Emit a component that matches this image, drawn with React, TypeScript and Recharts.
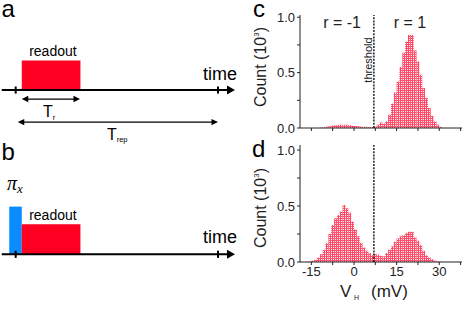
import React from 'react';
import { ComposedChart, Bar, XAxis, YAxis, ReferenceLine, ReferenceArea, ReferenceDot } from 'recharts';

const FONT = '"Liberation Sans", Arial, Helvetica, sans-serif';
const INK = '#222';
const AXIS = '#222';
const FRAME = '#555';
const PULSE_RED = '#ff0022';
const PULSE_BLUE = '#0a8cff';

// ---------- histogram data (bin centres in mV, counts in 10^3) ----------
const binCenters = [
  -18.5, -17.5, -16.5, -15.5, -14.5, -13.5, -12.5, -11.5, -10.5, -9.5,
  -8.5, -7.5, -6.5, -5.5, -4.5, -3.5, -2.5, -1.5, -0.5, 0.5,
  1.5, 2.5, 3.5, 4.5, 5.5, 6.5, 7.5, 8.5, 9.5, 10.5,
  11.5, 12.5, 13.5, 14.5, 15.5, 16.5, 17.5, 18.5, 19.5, 20.5,
  21.5, 22.5, 23.5, 24.5, 25.5, 26.5, 27.5, 28.5, 29.5, 30.5,
  31.5, 32.5, 33.5, 34.5, 35.5, 36.5, 37.5,
];
const countsC = [
  0, 0, 0, 0, 0, 0, 0, 0.003, 0.006, 0.012,
  0.016, 0.022, 0.026, 0.028, 0.03, 0.028, 0.03, 0.026, 0.02, 0.018,
  0.015, 0.012, 0.01, 0.01, 0.008, 0.008, 0.012, 0.03, 0.05, 0.04,
  0.06, 0.12, 0.22, 0.32, 0.42, 0.55, 0.68, 0.78, 0.84, 0.84,
  0.7, 0.6, 0.48, 0.36, 0.27, 0.18, 0.11, 0.06, 0.03, 0.01,
  0, 0, 0, 0, 0, 0, 0,
];
const countsD = [
  0, 0, 0.003, 0.008, 0.012, 0.02, 0.04, 0.07, 0.11, 0.17,
  0.25, 0.33, 0.39, 0.42, 0.45, 0.51, 0.48, 0.44, 0.36, 0.29,
  0.23, 0.17, 0.13, 0.1, 0.08, 0.06, 0.07, 0.065, 0.055, 0.05,
  0.08, 0.11, 0.14, 0.18, 0.21, 0.23, 0.24, 0.26, 0.27, 0.27,
  0.22, 0.19, 0.15, 0.1, 0.06, 0.04, 0.025, 0.012, 0.006, 0.003,
  0, 0, 0, 0, 0, 0, 0,
];
const vDomain = [-19, 38];
const thresholdMV = 7;
const vTicks = [-15, -7.5, 0, 7.5, 15, 22.5, 30, 37.5];
const vTickLabels = [-15, 0, 15, 30];
const countTicks = [0, 0.25, 0.5, 0.75, 1];
const countTickLabels = [0, 0.5, 1];

const histData = binCenters.map((v, i) => ({ v, c: countsC[i], d: countsD[i] }));

// ---------- timing diagram data (time in arbitrary units, amplitude in readout units) ----------
const tDomain = [-0.776, 11.088];
const repPeriod = 10;
const tickTimes = [0, repPeriod];
const timeAxisRange = [-0.69, 10.84];
const readoutWindow = [0.3, 3.2];
const piPulseWindow = [-0.32, 0.3];
const readoutLevel = 1;
const piLevel = 1.59;
const trSpan = [0.3, 3.18];
const trepSpan = [0.1, 10];
const timingEdges = [piPulseWindow[0], 0, readoutWindow[0], readoutWindow[1], repPeriod];
const timingData = timingEdges.map((t) => ({ t }));

// ---------- helpers ----------
const at = (render: (x: number, y: number) => React.ReactNode) => (p: any) => {
  const vb = p.viewBox || {};
  return render((vb.x ?? 0) + (vb.width ?? 0) / 2, (vb.y ?? 0) + (vb.height ?? 0) / 2);
};

const arrowShape = (start: boolean, end: boolean, len: number, half: number, width: number) => (p: any) => {
  const { x1, y1, x2, y2 } = p;
  const dx = x2 - x1;
  const dy = y2 - y1;
  const L = Math.hypot(dx, dy) || 1;
  const ux = dx / L;
  const uy = dy / L;
  const px = -uy;
  const py = ux;
  const head = (tx: number, ty: number, dir: number) => {
    const bx = tx - dir * ux * len;
    const by = ty - dir * uy * len;
    return `${tx},${ty} ${bx + px * half},${by + py * half} ${bx - px * half},${by - py * half}`;
  };
  const sx = start ? x1 + ux * len * 0.7 : x1;
  const sy = start ? y1 + uy * len * 0.7 : y1;
  const ex = end ? x2 - ux * len * 0.7 : x2;
  const ey = end ? y2 - uy * len * 0.7 : y2;
  return (
    <g>
      <line x1={sx} y1={sy} x2={ex} y2={ey} stroke="#000" strokeWidth={width} />
      {start && <polygon points={head(x1, y1, -1)} fill="#000" />}
      {end && <polygon points={head(x2, y2, 1)} fill="#000" />}
    </g>
  );
};

function Timing({ yDomain, withPi }: { yDomain: number[]; withPi: boolean }) {
  return (
    <ComposedChart width={240} height={155} data={timingData} margin={{ top: 0, right: 0, bottom: 0, left: 0 }}>
      <XAxis xAxisId="t" dataKey="t" type="number" domain={tDomain} allowDataOverflow hide height={0} />
      <YAxis yAxisId="a" type="number" domain={yDomain} allowDataOverflow hide width={0} />
      {withPi && (
        <ReferenceArea xAxisId="t" yAxisId="a" x1={piPulseWindow[0]} x2={piPulseWindow[1]} y1={0} y2={piLevel}
          fill={PULSE_BLUE} fillOpacity={1} stroke="none" ifOverflow="visible" />
      )}
      <ReferenceArea xAxisId="t" yAxisId="a" x1={readoutWindow[0]} x2={readoutWindow[1]} y1={0} y2={readoutLevel}
        fill={PULSE_RED} fillOpacity={1} stroke="none" ifOverflow="visible" />
      <ReferenceLine xAxisId="t" yAxisId="a" segment={[{ x: timeAxisRange[0], y: 0 }, { x: timeAxisRange[1], y: 0 }]}
        ifOverflow="visible" shape={arrowShape(false, true, 8, 4.5, 2)} />
      {tickTimes.map((t) => (
        <ReferenceLine key={t} xAxisId="t" yAxisId="a" segment={[{ x: t, y: -0.12 }, { x: t, y: 0.12 }]}
          stroke="#000" strokeWidth={2} ifOverflow="visible" />
      ))}
      {!withPi && (
        <ReferenceLine xAxisId="t" yAxisId="a" segment={[{ x: trSpan[0], y: -0.305 }, { x: trSpan[1], y: -0.305 }]}
          ifOverflow="visible" shape={arrowShape(true, true, 6.5, 3.2, 1.3)} />
      )}
      {!withPi && (
        <ReferenceLine xAxisId="t" yAxisId="a" segment={[{ x: trepSpan[0], y: -1.085 }, { x: trepSpan[1], y: -1.085 }]}
          ifOverflow="visible" shape={arrowShape(true, true, 6.5, 3.2, 1.3)} />
      )}
      <ReferenceDot xAxisId="t" yAxisId="a" x={1.84} y={withPi ? 1.14 : 1.15} r={0} fill="none" stroke="none" ifOverflow="visible"
        label={at((x, y) => (
          <text x={x} y={y} textAnchor="middle" fontSize={14} fontFamily={FONT} fill="#000">readout</text>
        ))} />
      <ReferenceDot xAxisId="t" yAxisId="a" x={10.1} y={withPi ? 0.377 : 0.34} r={0} fill="none" stroke="none" ifOverflow="visible"
        label={at((x, y) => (
          <text x={x} y={y} textAnchor="middle" fontSize={18} fontFamily={FONT} fill="#000">time</text>
        ))} />
      {!withPi && (
        <ReferenceDot xAxisId="t" yAxisId="a" x={1.35} y={-0.915} r={0} fill="none" stroke="none" ifOverflow="visible"
          label={at((x, y) => (
            <text x={x} y={y} fontSize={16} fontFamily={FONT} fill="#000">T<tspan fontSize={7.5} dy={3} fill="#000">r</tspan></text>
          ))} />
      )}
      {!withPi && (
        <ReferenceDot xAxisId="t" yAxisId="a" x={4.51} y={-1.695} r={0} fill="none" stroke="none" ifOverflow="visible"
          label={at((x, y) => (
            <text x={x} y={y} fontSize={16} fontFamily={FONT} fill="#000">T<tspan fontSize={7.5} dy={2} fill="#000">rep</tspan></text>
          ))} />
      )}
      {withPi && (
        <ReferenceDot xAxisId="t" yAxisId="a" x={-0.43} y={2.14} r={0} fill="none" stroke="none" ifOverflow="visible"
          label={at((x, y) => (
            <text x={x} y={y} fontSize={20} fontFamily='"Liberation Serif", "DejaVu Serif", serif' fontStyle="italic" fill="#000">
              π<tspan fontSize={13} dy={3}>x</tspan>
            </text>
          ))} />
      )}
    </ComposedChart>
  );
}

const countLabel = (centerY: number) => (p: any) => {
  const vb = p.viewBox || {};
  const x = (vb.x ?? 0) + 26;
  const y = centerY;
  return (
    <text x={x} y={y} transform={`rotate(-90 ${x} ${y})`} textAnchor="middle" fontSize={16} fontFamily={FONT} fill={INK}>
      Count (10<tspan dy={-7} fontSize={8}>3</tspan><tspan dy={7}>)</tspan>
    </text>
  );
};

const vLabel = (p: any) => {
  const vb = p.viewBox || {};
  const x0 = (vb.x ?? 0) + 40;
  const y = (vb.y ?? 0) + 35;
  return (
    <text y={y} fontSize={17} fontFamily={FONT} fill={INK}>
      <tspan x={x0}>V</tspan>
      <tspan x={x0 + 14} dy={3} fontSize={7}>H</tspan>
      <tspan x={x0 + 31} dy={-3}>(mV)</tspan>
    </text>
  );
};

type HistProps = {
  dataKey: string;
  height: number;
  axisHeight: number;
  yMax: number;
  showTickLabels: boolean;
  labelCenter: number;
  annotate: boolean;
};

function Histogram({ dataKey, height, axisHeight, yMax, showTickLabels, labelCenter, annotate }: HistProps) {
  const tickStyle = { fill: INK, fontSize: 13, fontFamily: FONT };
  return (
    <ComposedChart width={231} height={height} data={histData} margin={{ top: 15, right: 9, bottom: 0, left: 0 }}
      barCategoryGap={0} barGap={0}>
      <XAxis xAxisId="num" dataKey="v" type="number" domain={vDomain} allowDataOverflow ticks={vTicks} interval={0}
        tickSize={3} height={axisHeight} stroke={AXIS} tick={tickStyle}
        tickFormatter={(t: number) => (showTickLabels && vTickLabels.includes(t) ? String(t) : '')}
        label={showTickLabels ? vLabel : undefined} />
      <XAxis xAxisId="cat" dataKey="v" type="category" hide height={0} />
      <XAxis xAxisId="top" dataKey="v" orientation="top" type="number" domain={vDomain} allowDataOverflow tick={false}
        tickLine={false} height={0} stroke={FRAME} />
      <YAxis yAxisId="l" type="number" domain={[0, yMax]} allowDataOverflow ticks={countTicks} interval={0}
        tickSize={3} width={60} stroke={AXIS} tick={tickStyle}
        tickFormatter={(t: number) => (countTickLabels.includes(t) ? t.toFixed(1) : '')}
        label={countLabel(labelCenter)} />
      <YAxis yAxisId="r" orientation="right" type="number" domain={[0, yMax]} allowDataOverflow tick={false}
        tickLine={false} width={0} stroke={FRAME} />
      <Bar xAxisId="cat" yAxisId="l" dataKey={dataKey} fill="url(#histFill)" barSize={2.84} isAnimationActive={false} />
      <ReferenceLine xAxisId="num" yAxisId="l" x={thresholdMV} stroke="#000" strokeWidth={1.3} strokeDasharray="2 1.2"
        label={annotate ? (p: any) => {
          const vb = p.viewBox || {};
          const x = (vb.x ?? 0) - 2;
          const y = (vb.y ?? 0) + 45;
          return (
            <text x={x} y={y} transform={`rotate(-90 ${x} ${y})`} textAnchor="middle" fontSize={11} fontFamily={FONT} fill={INK}>
              threshold
            </text>
          );
        } : undefined} />
      {annotate && (
        <ReferenceDot xAxisId="num" yAxisId="l" x={-4.2} y={0.9} r={0} fill="none" stroke="none"
          label={at((x, y) => (
            <text x={x} y={y} textAnchor="middle" fontSize={16} fontFamily={FONT} fill={INK}>r = -1</text>
          ))} />
      )}
      {annotate && (
        <ReferenceDot xAxisId="num" yAxisId="l" x={19.7} y={0.9} r={0} fill="none" stroke="none"
          label={at((x, y) => (
            <text x={x} y={y} textAnchor="middle" fontSize={16} fontFamily={FONT} fill={INK}>r = 1</text>
          ))} />
      )}
    </ComposedChart>
  );
}

export default function App() {
  return (
    <div style={{ position: 'relative', width: 471, height: 310, background: '#fff', fontFamily: FONT, overflow: 'hidden' }}>
      <style>{'body{margin:0;}'}</style>
      <svg width={0} height={0} style={{ position: 'absolute' }}>
        <defs>
          <pattern id="histFill" width={2} height={2} patternUnits="userSpaceOnUse">
            <rect x={0} y={0} width={2} height={2} fill="#ff4866" />
            <rect x={1} y={1} width={1} height={1} fill="#ffe8ec" />
          </pattern>
        </defs>
      </svg>
      <div style={{ position: 'absolute', left: 0, top: 0 }}>
        <Timing yDomain={[-2.2, 3.05]} withPi={false} />
      </div>
      <div style={{ position: 'absolute', left: 0, top: 155 }}>
        <Timing yDomain={[-1.857, 3.31]} withPi={true} />
      </div>
      <div style={{ position: 'absolute', left: 240, top: 0 }}>
        <Histogram dataKey="c" height={138} axisHeight={10} yMax={1.02} showTickLabels={false} labelCenter={67} annotate={true} />
      </div>
      <div style={{ position: 'absolute', left: 240, top: 130 }}>
        <Histogram dataKey="d" height={180} axisHeight={48} yMax={1.045} showTickLabels={true} labelCenter={78} annotate={false} />
      </div>
      <svg width={471} height={310} style={{ position: 'absolute', left: 0, top: 0, pointerEvents: 'none' }}>
        <g fontFamily={FONT} fontSize={24} fill="#000">
          <text x={1.5} y={17}>a</text>
          <text x={1.5} y={160}>b</text>
          <text x={253} y={17}>c</text>
          <text x={252} y={157}>d</text>
        </g>
      </svg>
    </div>
  );
}
